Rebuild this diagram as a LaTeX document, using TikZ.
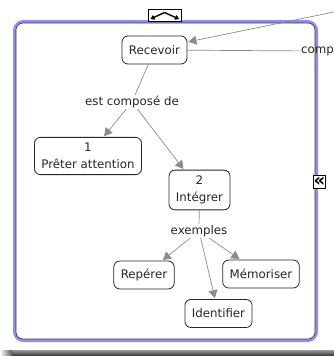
\documentclass[tikz,border=0pt]{standalone}
\usepackage{fontspec}
\setmainfont{DejaVu Sans}
\usetikzlibrary{arrows.meta}

\begin{document}
\begin{tikzpicture}[x=1pt,y=-1pt,font=\fontsize{11.8}{16.5}\selectfont]
    \tikzstyle{concept}=[draw=black!85,fill=white,rounded corners=6pt,line width=0.8pt,
        align=center,inner xsep=7pt,inner ysep=6pt,minimum height=28pt,text=black!85]
    \tikzstyle{link}=[inner sep=1pt,text=black!85]
    \tikzstyle{edge}=[draw=black!45,line width=0.7pt,shorten >=1pt,
        -{Triangle[length=8pt,width=9pt]}]
    \tikzstyle{plain edge}=[draw=black!45,line width=0.7pt]

    \useasboundingbox (0,0) rectangle (334,356);

    % shadow under the frame
    \shade[top color=black!40,bottom color=black!80] (12,350) rectangle (334,356);
    \shade[left color=white,right color=black!65] (0,350) rectangle (12,356);

    % the frame
    \draw[blue!45,line width=3pt,rounded corners=9pt] (14.5,21.5) rectangle (316.5,340.5);
    \draw[black!80,line width=0.6pt,fill=white,rounded corners=7pt] (16,23) rectangle (315,339);

    % frame handles
    \draw[fill=white,line width=0.6pt] (148,9.5) rectangle (181,21);
    \draw[line width=1.4pt,-{Triangle[length=4pt,width=5pt]}] (164.5,12.5) -- (150.5,19);
    \draw[line width=1.4pt,-{Triangle[length=4pt,width=5pt]}] (164.5,12.5) -- (179,19);
    \node[draw,fill=white,line width=0.6pt,inner sep=0pt,minimum width=12pt,minimum height=13pt,
        font=\fontsize{18}{18}\selectfont\bfseries] (fold) at (319.5,182) {«};

    % the concepts
    \node[concept] (R) at (154.5,50) {Recevoir};
    \node[concept] (C-1) at (88,156) {1\\Prêter attention};
    \node[concept] (C-2) at (199.5,190) {2\\Intégrer};
    \node[concept] (E-1) at (144,275) {Repérer};
    \node[concept] (E-2) at (218.5,313.5) {Identifier};
    \node[concept] (E-3) at (261,274) {Mémoriser};

    % the linking phrases
    \node[link] (L-1) at (132,102) {est composé de};
    \node[link] (L-2) at (199,231) {exemples};
    \node[link,anchor=west] (L-0) at (300,51) {comp};
    \coordinate (top) at (334,12);

    % connect them
    \path[edge] (top) -- (R.east |- 0,42);
    \path[plain edge] (R) -- (L-0);
    \path[plain edge] (R) -- (L-1);
    \path[edge] (L-1) -- (C-1);
    \path[edge] (L-1) -- (C-2);
    \path[plain edge] (C-2) -- (L-2);
    \foreach \dest in {1,...,3}
        \path[edge] (L-2) -- (E-\dest);
\end{tikzpicture}
\end{document}
